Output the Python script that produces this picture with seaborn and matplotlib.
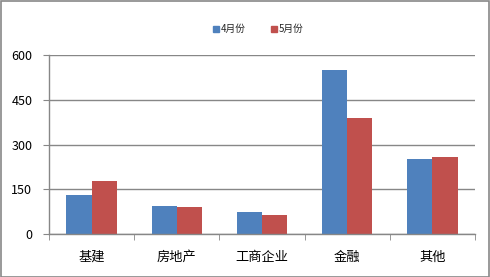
import matplotlib
matplotlib.use("Agg")
import matplotlib.pyplot as plt
import matplotlib.patches as mpatches
from matplotlib.lines import Line2D
import seaborn as sns
import pandas as pd

categories = ["基建", "房地产", "工商企业", "金融", "其他"]
series_names = ["4月份", "5月份"]
april = [131, 94, 74, 550, 251]
may = [178, 91, 64, 389, 258]
yticks = [0, 150, 300, 450, 600]
colors = ["#4F81BD", "#C0504D"]

df = pd.DataFrame({
    "cat": categories * 2,
    "series": [series_names[0]] * len(categories) + [series_names[1]] * len(categories),
    "value": april + may,
})

sns.set_style("white")
plt.rcParams["font.family"] = ["Noto Sans CJK SC", "DejaVu Sans"]

fig = plt.figure(figsize=(4.9, 2.77), dpi=100)
ax = fig.add_axes([49 / 490, 1 - 234 / 277, (475 - 49) / 490, (234 - 55) / 277])

sns.barplot(data=df, x="cat", y="value", hue="series", palette=colors,
            width=0.59, gap=0, saturation=1, ax=ax, legend=False, edgecolor="none")

ax.set_xlim(-0.5, len(categories) - 0.5)
ax.set_ylim(0, 600)
ax.set_yticks(yticks)
ax.set_yticklabels([str(v) for v in yticks], fontsize=9, color="black")
ax.set_xlabel("")
ax.set_ylabel("")
ax.yaxis.grid(True, color="#878787", linewidth=1)
ax.set_axisbelow(True)
for s in ["top", "right"]:
    ax.spines[s].set_visible(False)
for s in ["left", "bottom"]:
    ax.spines[s].set_color("#878787")
    ax.spines[s].set_linewidth(1)

ax.tick_params(axis="y", which="major", length=4, direction="out", color="#878787", pad=8, left=True)
ax.tick_params(axis="x", which="major", length=0, pad=12, labelsize=9.5)
ax.set_xticks([i - 0.5 for i in range(len(categories) + 1)], minor=True)
ax.tick_params(axis="x", which="minor", length=4, direction="out", color="#878787", bottom=True)
for lbl in ax.get_xticklabels():
    lbl.set_color("black")

handles = [Line2D([0], [0], marker="s", linestyle="none", markersize=5,
                  markerfacecolor=c, markeredgecolor=c) for c in colors]
fig.legend(handles, series_names, loc="center", bbox_to_anchor=(258 / 490, 1 - 29 / 277),
           ncol=2, frameon=False, fontsize=7, handletextpad=0.1, columnspacing=2.5,
           handlelength=0.8)

fig.patches.append(mpatches.Rectangle((0.5 / 490, 0.5 / 277), 488.5 / 490, 275.5 / 277,
                                      transform=fig.transFigure, fill=False,
                                      edgecolor="#888888", linewidth=1.2))

fig.savefig("out.png", dpi=100)
